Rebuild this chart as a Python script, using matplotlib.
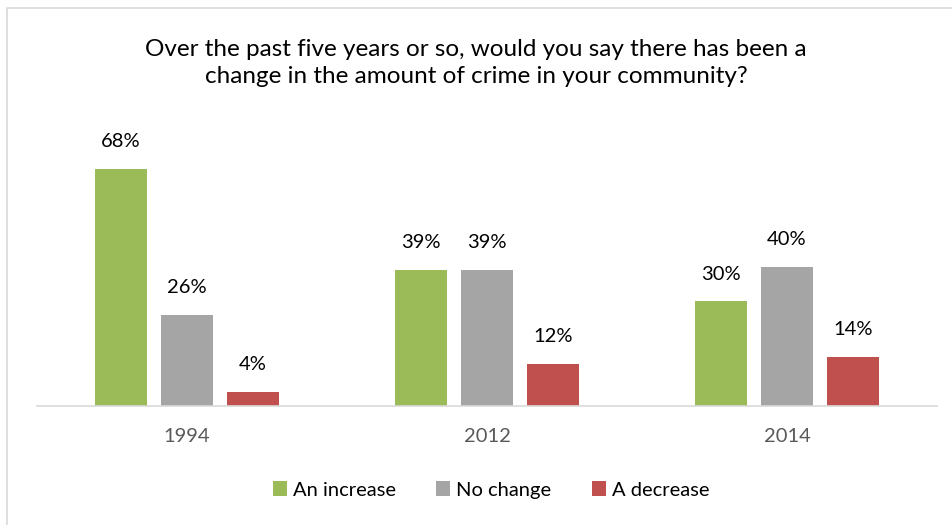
import matplotlib.pyplot as plt
import numpy as np

years = ['1994', '2012', '2014']
increase = [68, 39, 30]
no_change = [26, 39, 40]
decrease = [4, 12, 14]

series = [('An increase', increase, '#9BBB59'),
          ('No change', no_change, '#A5A5A5'),
          ('A decrease', decrease, '#C0504D')]

plt.rcParams['font.family'] = ['Lato', 'DejaVu Sans']

fig = plt.figure(figsize=(9.52, 5.25), dpi=100)
ax = fig.add_axes([37 / 952, (525 - 406) / 525, 900 / 952, 279 / 525])

x = np.arange(len(years))
width = 0.173
offset = 0.22

for i, (name, vals, color) in enumerate(series):
    pos = x + (i - 1) * offset
    ax.bar(pos, vals, width, color=color, label=name)
    for p, v in zip(pos, vals):
        ax.text(p, v + 5.4, f"{v}%", ha='center', va='bottom', fontsize=14.5, color='black')

ax.set_xlim(-0.5, 2.5)
ax.set_ylim(0, 80)
ax.set_xticks(x)
ax.set_xticklabels(years, fontsize=14.5, color='#595959')
ax.tick_params(axis='x', length=0, pad=16)
ax.set_yticks([])
for s in ['top', 'right', 'left']:
    ax.spines[s].set_visible(False)
ax.spines['bottom'].set_color('#D9D9D9')
ax.spines['bottom'].set_linewidth(1.2)

fig.text(0.5, 1 - 63 / 525,
         'Over the past five years or so, would you say there has been a\nchange in the amount of crime in your community?',
         ha='center', va='center', fontsize=17.5, linespacing=1.3)

fig.legend(loc='center', bbox_to_anchor=(491 / 952, 1 - 490 / 525), ncol=3, frameon=False,
           fontsize=14.5, handlelength=0.7, handleheight=0.7, handletextpad=0.3, columnspacing=2.0)

# chart border
border = plt.Rectangle((7 / 952, -0.01), 1.0, 1 - 8 / 525 + 0.01, transform=fig.transFigure,
                       fill=False, edgecolor='#D9D9D9', linewidth=1.2)
fig.patches.append(border)

fig.savefig('out.png', dpi=100)
